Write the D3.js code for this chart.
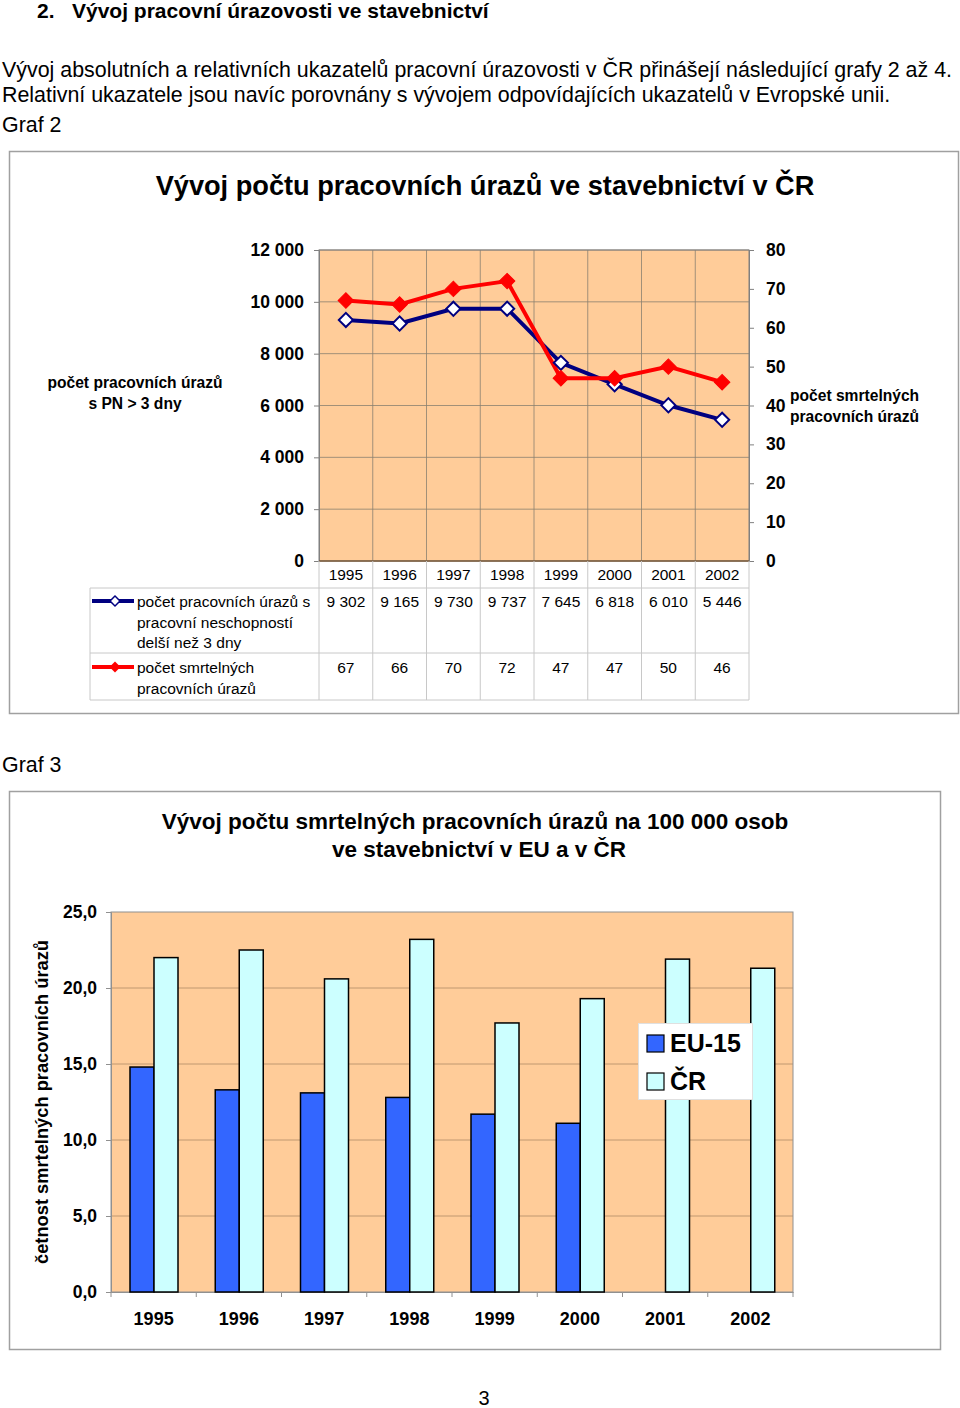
<!DOCTYPE html>
<html><head><meta charset="utf-8">
<script src="https://cdn.jsdelivr.net/npm/d3@7"></script>
<style>
body{margin:0;background:#fff;}
svg{display:block;font-family:"Liberation Sans",Arial,sans-serif;}
</style></head>
<body>
<svg id="page" width="960" height="1408"></svg>
<script>
// ---- data ----
const years = ["1995","1996","1997","1998","1999","2000","2001","2002"];
const injuries = [9302, 9165, 9730, 9737, 7645, 6818, 6010, 5446];
const fatal = [67, 66, 70, 72, 47, 47, 50, 46];
const leftTicks = [0, 2000, 4000, 6000, 8000, 10000, 12000];
const rightTicks = [0, 10, 20, 30, 40, 50, 60, 70, 80];
const euRate = [14.8, 13.3, 13.1, 12.8, 11.7, 11.1, null, null];
const crRate = [22.0, 22.5, 20.6, 23.2, 17.7, 19.3, 21.9, 21.3];
const rateTicks = [0, 5, 10, 15, 20, 25];
const seriesNames = ["EU-15", "ČR"];

const svg = d3.select("#page");
const fmtSpace = v => d3.format(",")(v).replace(/,/g, " ");
const fmtComma = v => d3.format(".1f")(v).replace(".", ",");
const PEACH = "#FFCC99";

// ---- page text ----
svg.append("text").attr("x", 37).attr("y", 18).attr("font-size", 21).attr("font-weight", "bold").text("2.");
svg.append("text").attr("x", 72).attr("y", 18).attr("font-size", 21).attr("font-weight", "bold").text("Vývoj pracovní úrazovosti ve stavebnictví");
svg.append("text").attr("x", 2).attr("y", 77).attr("font-size", 21.4).text("Vývoj absolutních a relativních ukazatelů pracovní úrazovosti v ČR přinášejí následující grafy 2 až 4.");
svg.append("text").attr("x", 2).attr("y", 102).attr("font-size", 21.4).text("Relativní ukazatele jsou navíc porovnány s vývojem odpovídajících ukazatelů v Evropské unii.");
svg.append("text").attr("x", 2).attr("y", 132).attr("font-size", 21.4).text("Graf 2");
svg.append("text").attr("x", 2).attr("y", 772).attr("font-size", 21.4).text("Graf 3");
svg.append("text").attr("x", 484).attr("y", 1405).attr("font-size", 20).attr("text-anchor", "middle").text("3");

// ================= CHART 1 =================
const c1 = svg.append("g");
c1.append("rect").attr("x", 9.5).attr("y", 151.5).attr("width", 949).attr("height", 562)
  .attr("fill", "#fff").attr("stroke", "#a0a0a0").attr("stroke-width", 1.5);
c1.append("text").attr("x", 485).attr("y", 195).attr("text-anchor", "middle")
  .attr("font-size", 27.2).attr("font-weight", "bold").text("Vývoj počtu pracovních úrazů ve stavebnictví v ČR");

const x1 = d3.scaleBand().domain(years).range([319, 749]).padding(0);
const yL = d3.scaleLinear().domain([0, 12000]).range([561, 250]);
const yR = d3.scaleLinear().domain([0, 80]).range([561, 250]);

c1.append("rect").attr("x", 319).attr("y", 250).attr("width", 430).attr("height", 311).attr("fill", PEACH);
// grid
c1.append("g").selectAll("line").data(leftTicks.slice(1)).join("line")
  .attr("x1", 319).attr("x2", 749).attr("y1", d => yL(d)).attr("y2", d => yL(d))
  .attr("stroke", "#8a8070").attr("stroke-width", 0.8);
c1.append("g").selectAll("line").data(years.slice(1)).join("line")
  .attr("x1", d => x1(d)).attr("x2", d => x1(d)).attr("y1", 250).attr("y2", 561)
  .attr("stroke", "#8a8070").attr("stroke-width", 0.8);
c1.append("rect").attr("x", 319).attr("y", 250).attr("width", 430).attr("height", 311)
  .attr("fill", "none").attr("stroke", "#808080").attr("stroke-width", 1);
// axes
const axL = c1.append("g").attr("transform", "translate(319,0)")
  .call(d3.axisLeft(yL).tickValues(leftTicks).tickFormat(fmtSpace).tickSize(5).tickPadding(10));
const axR = c1.append("g").attr("transform", "translate(749,0)")
  .call(d3.axisRight(yR).tickValues(rightTicks).tickSize(5).tickPadding(12));
[axL, axR].forEach(a => {
  a.select(".domain").attr("stroke", "#808080");
  a.selectAll(".tick line").attr("stroke", "#808080");
  a.selectAll("text").attr("font-size", 17.5).attr("font-weight", "bold").attr("fill", "#000")
    .attr("font-family", "Liberation Sans, Arial, sans-serif");
});
c1.append("line").attr("x1", 319).attr("x2", 749).attr("y1", 561).attr("y2", 561)
  .attr("stroke", "#7a5a3a").attr("stroke-width", 1.5);

// axis titles
const tL = c1.append("text").attr("text-anchor", "middle").attr("font-size", 15.6).attr("font-weight", "bold");
tL.append("tspan").attr("x", 135).attr("y", 388).text("počet pracovních úrazů");
tL.append("tspan").attr("x", 135).attr("y", 409).text("s PN > 3 dny");
const tR = c1.append("text").attr("font-size", 15.6).attr("font-weight", "bold");
tR.append("tspan").attr("x", 790).attr("y", 401).text("počet smrtelných");
tR.append("tspan").attr("x", 790).attr("y", 422).text("pracovních úrazů");

// lines
const cx = d => x1(d) + x1.bandwidth() / 2;
const lineL = d3.line().x((d, i) => cx(years[i])).y(d => yL(d));
const lineR = d3.line().x((d, i) => cx(years[i])).y(d => yR(d));
c1.append("path").attr("d", lineL(injuries)).attr("fill", "none").attr("stroke", "#000080").attr("stroke-width", 4);
c1.append("path").attr("d", lineR(fatal)).attr("fill", "none").attr("stroke", "#FF0000").attr("stroke-width", 4);
const diamond = d3.symbol().type(d3.symbolSquare).size(100);
c1.append("g").selectAll("path").data(injuries).join("path")
  .attr("d", diamond).attr("transform", (d, i) => `translate(${cx(years[i])},${yL(d)}) rotate(45)`)
  .attr("fill", "#fff").attr("stroke", "#000080").attr("stroke-width", 2);
const diamondR = d3.symbol().type(d3.symbolSquare).size(120);
c1.append("g").selectAll("path").data(fatal).join("path")
  .attr("d", diamondR).attr("transform", (d, i) => `translate(${cx(years[i])},${yR(d)}) rotate(45)`)
  .attr("fill", "#FF0000").attr("stroke", "#FF0000").attr("stroke-width", 1);

// data table
const tg = c1.append("g");
const gridC = "#c8c8c8";
tg.append("g").selectAll("line").data(years.concat(["end"])).join("line")
  .attr("x1", (d, i) => 319 + i * x1.bandwidth()).attr("x2", (d, i) => 319 + i * x1.bandwidth())
  .attr("y1", 561).attr("y2", 700).attr("stroke", gridC);
tg.append("line").attr("x1", 90).attr("x2", 90).attr("y1", 588).attr("y2", 700).attr("stroke", gridC);
[588, 653, 700].forEach(y => tg.append("line").attr("x1", 90).attr("x2", 749).attr("y1", y).attr("y2", y).attr("stroke", gridC));
tg.append("g").selectAll("text").data(years).join("text")
  .attr("x", d => cx(d)).attr("y", 580).attr("text-anchor", "middle").attr("font-size", 15.5).text(d => d);
tg.append("g").selectAll("text").data(injuries).join("text")
  .attr("x", (d, i) => cx(years[i])).attr("y", 607).attr("text-anchor", "middle").attr("font-size", 15.5).text(d => fmtSpace(d));
tg.append("g").selectAll("text").data(fatal).join("text")
  .attr("x", (d, i) => cx(years[i])).attr("y", 673).attr("text-anchor", "middle").attr("font-size", 15.5).text(d => d);
// legend keys in table
tg.append("line").attr("x1", 92).attr("x2", 134).attr("y1", 601).attr("y2", 601).attr("stroke", "#000080").attr("stroke-width", 4);
tg.append("path").attr("d", d3.symbol().type(d3.symbolSquare).size(50)).attr("transform", "translate(115,601) rotate(45)")
  .attr("fill", "#fff").attr("stroke", "#000080").attr("stroke-width", 1.5);
tg.append("line").attr("x1", 92).attr("x2", 134).attr("y1", 667).attr("y2", 667).attr("stroke", "#FF0000").attr("stroke-width", 4);
tg.append("path").attr("d", d3.symbol().type(d3.symbolSquare).size(60)).attr("transform", "translate(115,667) rotate(45)")
  .attr("fill", "#FF0000");
const l1 = tg.append("text").attr("font-size", 15.5);
[["počet pracovních úrazů s", 607], ["pracovní neschopností", 628], ["delší než 3 dny", 648]].forEach(([t, y]) =>
  l1.append("tspan").attr("x", 137).attr("y", y).text(t));
const l2 = tg.append("text").attr("font-size", 15.5);
[["počet smrtelných", 673], ["pracovních úrazů", 694]].forEach(([t, y]) =>
  l2.append("tspan").attr("x", 137).attr("y", y).text(t));

// ================= CHART 2 =================
const c2 = svg.append("g");
c2.append("rect").attr("x", 9.5).attr("y", 791.5).attr("width", 931).attr("height", 558)
  .attr("fill", "#fff").attr("stroke", "#a0a0a0").attr("stroke-width", 1.5);
const t2 = c2.append("text").attr("text-anchor", "middle").attr("font-size", 22.5).attr("font-weight", "bold");
t2.append("tspan").attr("x", 475).attr("y", 829).text("Vývoj počtu smrtelných pracovních úrazů na 100 000 osob");
t2.append("tspan").attr("x", 479).attr("y", 857).text("ve stavebnictví v EU a v ČR");

const x2 = d3.scaleBand().domain(years).range([111, 793]).padding(0);
const xs = d3.scaleBand().domain(seriesNames).range([0, 48]);
const y2 = d3.scaleLinear().domain([0, 25]).range([1292, 912]);
c2.append("rect").attr("x", 111).attr("y", 912).attr("width", 682).attr("height", 380).attr("fill", PEACH);
c2.append("g").selectAll("line").data(rateTicks.slice(1, -1)).join("line")
  .attr("x1", 111).attr("x2", 793).attr("y1", d => y2(d)).attr("y2", d => y2(d))
  .attr("stroke", "#c09870").attr("stroke-width", 1);
c2.append("rect").attr("x", 111).attr("y", 912).attr("width", 682).attr("height", 380)
  .attr("fill", "none").attr("stroke", "#909090").attr("stroke-width", 1);
const ax2 = c2.append("g").attr("transform", "translate(111,0)")
  .call(d3.axisLeft(y2).tickValues(rateTicks).tickFormat(fmtComma).tickSize(5).tickPadding(9));
const ax2b = c2.append("g").attr("transform", "translate(0,1292)")
  .call(d3.axisBottom(x2).tickSize(0).tickPadding(20));
[ax2, ax2b].forEach(a => {
  a.select(".domain").attr("stroke", "#909090");
  a.selectAll(".tick line").attr("stroke", "#909090");
  a.selectAll("text").attr("font-size", 18).attr("font-weight", "bold").attr("fill", "#000")
    .attr("font-family", "Liberation Sans, Arial, sans-serif");
});
ax2.selectAll("text").attr("font-size", 17.5);
// category tick marks
c2.append("g").selectAll("line").data(years.concat(["end"])).join("line")
  .attr("x1", (d, i) => 111 + i * x2.bandwidth()).attr("x2", (d, i) => 111 + i * x2.bandwidth())
  .attr("y1", 1292).attr("y2", 1297).attr("stroke", "#909090");
c2.append("text").attr("transform", "translate(48,1102) rotate(-90)").attr("text-anchor", "middle")
  .attr("font-size", 18.3).attr("font-weight", "bold").text("četnost smrtelných pracovních úrazů");

const colors = {"EU-15": "#3366FF", "ČR": "#CCFFFF"};
const barData = [];
years.forEach((yv, i) => {
  if (euRate[i] != null) barData.push({year: yv, s: "EU-15", v: euRate[i]});
  if (crRate[i] != null) barData.push({year: yv, s: "ČR", v: crRate[i]});
});
c2.append("g").selectAll("rect").data(barData).join("rect")
  .attr("x", d => x2(d.year) + 19 + xs(d.s)).attr("width", xs.bandwidth())
  .attr("y", d => y2(d.v)).attr("height", d => y2(0) - y2(d.v))
  .attr("fill", d => colors[d.s]).attr("stroke", "#000").attr("stroke-width", 1.5);

// legend
const lg = c2.append("g");
lg.append("rect").attr("x", 638.5).attr("y", 1023.5).attr("width", 114).attr("height", 76)
  .attr("fill", "#fff").attr("stroke", "#e0e0e0");
seriesNames.forEach((s, i) => {
  lg.append("rect").attr("x", 647).attr("y", 1035 + i * 38).attr("width", 17).attr("height", 17)
    .attr("fill", colors[s]).attr("stroke", "#000").attr("stroke-width", 1.2);
  lg.append("text").attr("x", 670).attr("y", 1052 + i * 38).attr("font-size", 25).attr("font-weight", "bold").text(s);
});
</script>
</body></html>
